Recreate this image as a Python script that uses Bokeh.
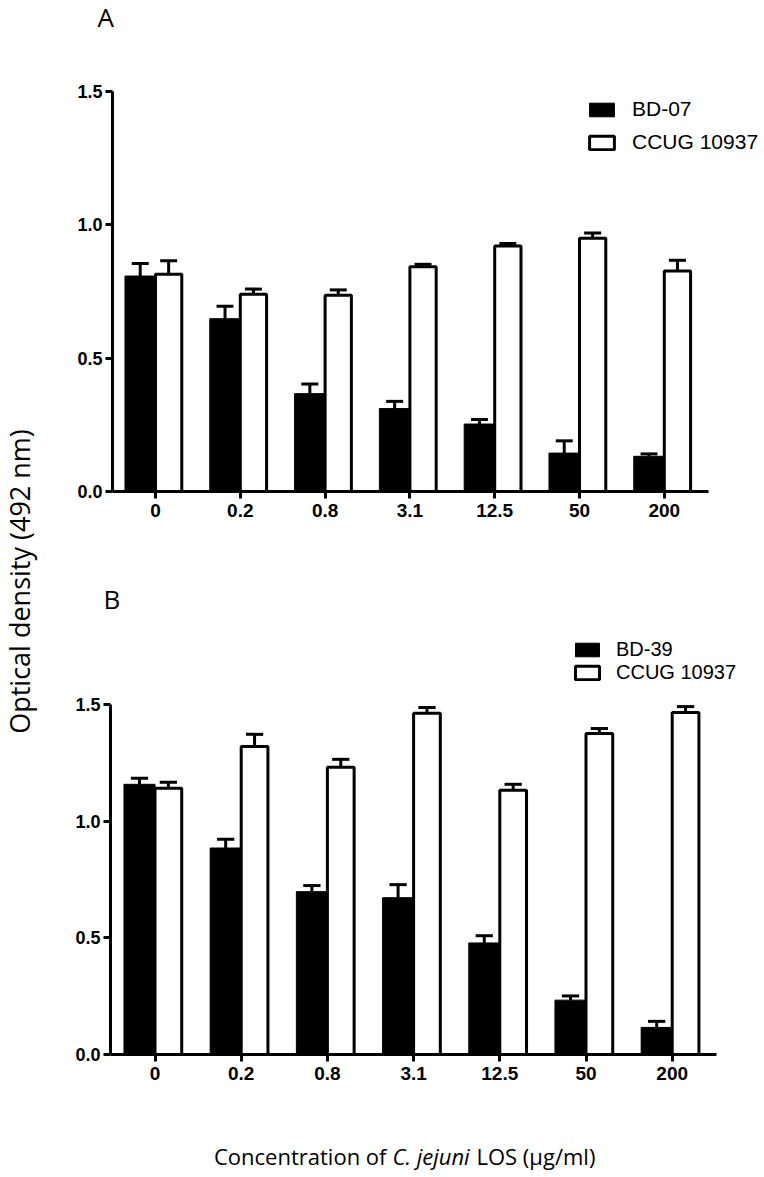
from bokeh.plotting import figure
from bokeh.models import (Range1d, FixedTicker, Legend, LegendItem, Label,
                          ColumnDataSource, LinearAxis)
from bokeh.embed import file_html
from bokeh.resources import INLINE

# ---------------- data ----------------
concentrations = ["0", "0.2", "0.8", "3.1", "12.5", "50", "200"]

a_bd07 = [0.808, 0.648, 0.367, 0.311, 0.253, 0.144, 0.132]
a_bd07_err = [0.047, 0.047, 0.036, 0.027, 0.017, 0.046, 0.009]
a_ccug = [0.815, 0.740, 0.736, 0.843, 0.921, 0.950, 0.827]
a_ccug_err = [0.050, 0.019, 0.020, 0.009, 0.009, 0.019, 0.040]

b_bd39 = [1.158, 0.885, 0.698, 0.672, 0.478, 0.233, 0.116]
b_bd39_err = [0.026, 0.038, 0.026, 0.056, 0.031, 0.018, 0.026]
b_ccug = [1.141, 1.320, 1.231, 1.462, 1.132, 1.376, 1.466]
b_ccug_err = [0.026, 0.052, 0.034, 0.025, 0.026, 0.021, 0.025]

y_ticks = [0.0, 0.5, 1.0, 1.5]

TICK_FONT = "Liberation Sans"
TEXT_FONT = "Open Sans"

W, H = 764, 1176

# ---------------- panel geometry (pixels on the page) ----------------
# panel A: category 0 at x=155 px, 84.8 px per category; y 0 at 491 px, 1.5 at 91 px
A_X0, A_DX, A_Y0, A_DY = 155.0, 84.8, 491.0, 400.0 / 1.5
# panel B: category 0 at x=154.5 px, 86.2 px per category; y 0 at 1054 px, 1.5 at 704 px
B_X0, B_DX, B_Y0, B_DY = 154.5, 86.2, 1054.0, 350.0 / 1.5

xr_a = Range1d(-A_X0 / A_DX, (W - A_X0) / A_DX)
yr_a = Range1d((A_Y0 - H) / A_DY, A_Y0 / A_DY)
xr_b = Range1d(-B_X0 / B_DX, (W - B_X0) / B_DX)
yr_b = Range1d((B_Y0 - H) / B_DY, B_Y0 / B_DY)

p = figure(width=W, height=H, output_backend="svg", toolbar_location=None, title=None,
           x_range=xr_a, y_range=yr_a, x_axis_location=None, y_axis_location=None,
           min_border=0)
p.extra_x_ranges = {"xb": xr_b}
p.extra_y_ranges = {"yb": yr_b}
p.outline_line_color = None
p.grid.visible = False
p.background_fill_color = "white"
p.border_fill_color = "white"


def page_a(px, py):
    return (px - A_X0) / A_DX, (A_Y0 - py) / A_DY


def style_axis(ax, size):
    ax.axis_line_width = 3
    ax.axis_line_color = "black"
    ax.major_tick_line_width = 3
    ax.major_tick_line_color = "black"
    ax.major_tick_out = 7
    ax.major_tick_in = 0
    ax.minor_tick_line_color = None
    ax.major_label_text_font = TICK_FONT
    ax.major_label_text_font_style = "bold"
    ax.major_label_text_color = "black"
    ax.major_label_text_font_size = size


def draw_panel(dark, dark_err, light, light_err, xname, yname, x_left, x_right):
    idx = list(range(len(concentrations)))
    xd = [i - 0.18 for i in idx]
    xl = [i + 0.155 for i in idx]
    src_d = ColumnDataSource(dict(x=xd, top=dark,
                                  etop=[v + e for v, e in zip(dark, dark_err)],
                                  c0=[x - 0.1 for x in xd], c1=[x + 0.1 for x in xd]))
    src_l = ColumnDataSource(dict(x=xl, top=light,
                                  etop=[v + e for v, e in zip(light, light_err)],
                                  c0=[x - 0.1 for x in xl], c1=[x + 0.1 for x in xl]))
    kw = dict(x_range_name=xname, y_range_name=yname)
    rd = p.vbar(x="x", top="top", bottom=0, width=0.36, source=src_d,
                fill_color="black", line_color="black", line_width=1, **kw)
    rl = p.vbar(x="x", top="top", bottom=0, width=0.31, source=src_l,
                fill_color="white", line_color="black", line_width=3, **kw)
    for src in (src_d, src_l):
        p.segment(x0="x", y0="top", x1="x", y1="etop", source=src,
                  line_color="black", line_width=3, **kw)
        p.segment(x0="c0", y0="etop", x1="c1", y1="etop", source=src,
                  line_color="black", line_width=3, **kw)

    xa = LinearAxis(x_range_name=xname, y_range_name=yname, fixed_location=0,
                    bounds=(x_left, x_right), ticker=FixedTicker(ticks=idx),
                    major_label_overrides={i: c for i, c in zip(idx, concentrations)},
                    major_label_standoff=5)
    style_axis(xa, "19px")
    p.add_layout(xa, "below")
    ya = LinearAxis(x_range_name=xname, y_range_name=yname, fixed_location=x_left,
                    bounds=(0, 1.5), ticker=FixedTicker(ticks=y_ticks),
                    major_label_overrides={t: f"{t:.1f}" for t in y_ticks},
                    major_label_standoff=3)
    style_axis(ya, "18px")
    p.add_layout(ya, "left")
    return rd, rl


def make_legend(r_dark, r_light, dark_name, light_name, loc, spacing, font, glyph_w, standoff):
    return Legend(items=[LegendItem(label=dark_name, renderers=[r_dark]),
                         LegendItem(label=light_name, renderers=[r_light])],
                  location=loc, orientation="vertical",
                  glyph_width=glyph_w, glyph_height=17,
                  label_standoff=standoff, spacing=spacing,
                  padding=0, margin=0, border_line_color=None,
                  background_fill_alpha=0, label_height=17,
                  label_text_font=TICK_FONT, label_text_font_size=font,
                  label_text_color="black")


rd_a, rl_a = draw_panel(a_bd07, a_bd07_err, a_ccug, a_ccug_err, "default", "default",
                        (112 - A_X0) / A_DX, (708 - A_X0) / A_DX)
rd_b, rl_b = draw_panel(b_bd39, b_bd39_err, b_ccug, b_ccug_err, "xb", "yb",
                        (110 - B_X0) / B_DX, (716 - B_X0) / B_DX)

# legends: location = bottom-left corner, in px from the canvas bottom-left
p.add_layout(make_legend(rd_a, rl_a, "BD-07", "CCUG 10937", (586, H - 154), 9, "21px", 31, 15))
p.add_layout(make_legend(rd_b, rl_b, "BD-39", "CCUG 10937", (572, H - 684), 0, "20px", 30, 14))


def text_label(px, py, text, size, align="left", style="normal", angle=0.0):
    x, y = page_a(px, py)
    p.add_layout(Label(x=x, y=y, text=text, text_font=TEXT_FONT, text_font_size=size,
                       text_font_style=style, text_color="black", text_align=align,
                       text_baseline="middle", angle=angle))


text_label(97, 16, "A", "26px")
text_label(103, 598, "B", "26px")
text_label(19, 581, "Optical density (492 nm)", "27px", align="center", angle=1.5708)
text_label(386, 1155, "Concentration of", "22px", align="right")
text_label(392, 1155, "C. jejuni", "22px", style="italic")
text_label(476, 1155, "LOS (µg/ml)", "22px")

with open("out.html", "w") as f:
    f.write(file_html(p, INLINE))
